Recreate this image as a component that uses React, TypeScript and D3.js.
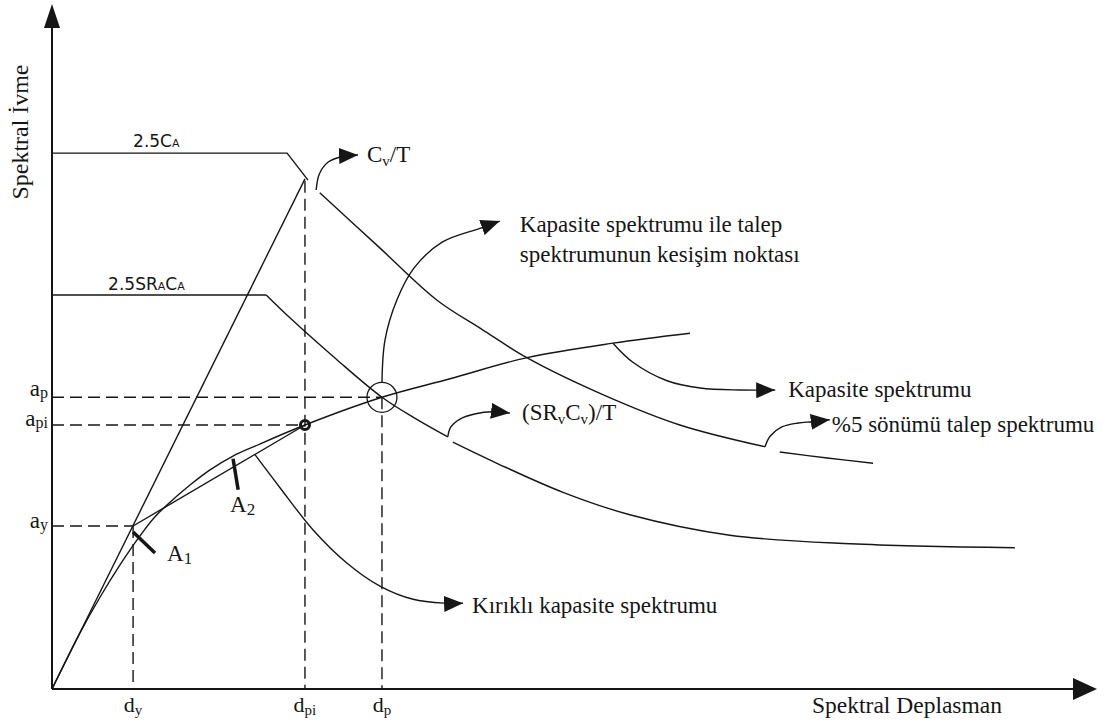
import React from "react";
import * as d3 from "d3";

type Pt = [number, number];

// Reference displacements (Sd) and accelerations (Sa)
const dY = 1.59;
const dPi = 4.96;
const dP = 6.47;
const aY = 0.247;
const aPi = 0.4;
const aP = 0.442;
const level25CA = 0.812;
const level25SRACA = 0.597;
const elasticPeak = 0.773;

// Elastic branch and bilinear (kırıklı) capacity spectrum
const elasticLine: Pt[] = [[0, 0], [dPi, elasticPeak]];
const bilinearLine: Pt[] = [[dY, aY], [dPi, aPi]];

// Capacity spectrum
const capacityCurve: Pt[] = [
  [0, 0], [0.549, 0.085], [0.941, 0.139], [1.333, 0.188], [1.725, 0.232],
  [2.02, 0.261], [2.314, 0.283], [2.706, 0.309], [3.098, 0.332], [3.549, 0.353],
  [3.98, 0.368], [dPi, aPi], [dP, aP], [7.804, 0.47], [9.314, 0.502],
  [11.0, 0.524], [12.51, 0.539],
];

// 5% damped demand spectrum (2.5CA plateau, Cv/T branch)
const cvtPlateau: Pt[] = [[0, level25CA], [4.61, level25CA], [5.02, 0.771]];
const cvtMid: Pt[] = [
  [5.25, 0.752], [6.39, 0.671], [7.55, 0.589], [8.43, 0.545], [9.31, 0.502],
  [10.8, 0.446], [12.31, 0.4], [13.98, 0.367],
];
const cvtTail: Pt[] = [[14.27, 0.359], [15.2, 0.35], [16.1, 0.342]];

// Reduced demand spectrum (2.5SRACA plateau, SRvCv/T branch)
const srPlateau: Pt[] = [[0, level25SRACA], [4.2, level25SRACA]];
const srMid: Pt[] = [
  [4.2, level25SRACA], [4.67, 0.562], [5.57, 0.5], [dP, aP], [7.12, 0.41], [7.76, 0.382],
];
const srTail: Pt[] = [
  [7.86, 0.374], [8.725, 0.342], [10.02, 0.298], [11.33, 0.264], [13.29, 0.233],
  [15.65, 0.22], [18.88, 0.214],
];

// Leader arrows for the annotations
const arrowCvT: Pt[] = [[5.18, 0.756], [5.24, 0.78], [5.41, 0.798], [5.65, 0.806], [6.0, 0.809]];
const arrowIntersection: Pt[] = [
  [6.47, 0.465], [6.53, 0.529], [6.76, 0.589], [7.1, 0.638], [7.65, 0.677], [8.39, 0.698], [8.78, 0.709],
];
const arrowSR: Pt[] = [[7.76, 0.382], [7.82, 0.397], [8.0, 0.409], [8.31, 0.417], [8.63, 0.42], [8.98, 0.418]];
const arrowCapacity: Pt[] = [
  [11.0, 0.524], [11.39, 0.495], [12.06, 0.467], [12.71, 0.456], [13.49, 0.453], [14.18, 0.453],
];
const arrowDemand: Pt[] = [[13.98, 0.367], [14.08, 0.383], [14.31, 0.397], [14.63, 0.403], [14.9, 0.405], [15.25, 0.408]];
const arrowBilinear: Pt[] = [
  [3.98, 0.355], [4.47, 0.305], [5.12, 0.241], [5.78, 0.191], [6.43, 0.156], [7.08, 0.136], [7.71, 0.13], [8.06, 0.13],
];

// Area markers A1, A2
const markerA1: Pt[] = [[1.59, 0.238], [2.02, 0.206]];
const markerA2: Pt[] = [[3.55, 0.349], [3.65, 0.302]];

const INK = "#161616";
const SERIF = "'Liberation Serif', 'Times New Roman', serif";
const SANS = "'DejaVu Sans', Verdana, sans-serif";

export default function App() {
  const x = d3.scaleLinear().domain([0, 20]).range([52, 1072]);
  const y = d3.scaleLinear().domain([0, 1]).range([689, 29]);

  const smooth = d3
    .line<Pt>()
    .x((d) => x(d[0]))
    .y((d) => y(d[1]))
    .curve(d3.curveCatmullRom.alpha(0.5));
  const straight = d3
    .line<Pt>()
    .x((d) => x(d[0]))
    .y((d) => y(d[1]));

  const tip = (pts: Pt[]) => {
    const p = pts[pts.length - 1];
    return [x(p[0]), y(p[1])];
  };

  const x0 = x(0);
  const y0 = y(0);
  const xEnd = 1075;
  const yTop = 26;

  const curveStyle = { fill: "none", stroke: INK, strokeWidth: 1.4 };
  const dashStyle = { fill: "none", stroke: INK, strokeWidth: 1.4, strokeDasharray: "12,6" };

  const [cvtX, cvtY] = tip(arrowCvT);
  const [intX, intY] = tip(arrowIntersection);
  const [srX, srY] = tip(arrowSR);
  const [capX, capY] = tip(arrowCapacity);
  const [demX, demY] = tip(arrowDemand);
  const [bilX, bilY] = tip(arrowBilinear);

  return (
    <svg
      width={1112}
      height={724}
      style={{ position: "fixed", left: 0, top: 0, background: "#fff", display: "block" }}
      fontFamily={SERIF}
    >
      <defs>
        <marker
          id="head"
          viewBox="0 0 19 16"
          refX={19}
          refY={8}
          markerWidth={19}
          markerHeight={16}
          markerUnits="userSpaceOnUse"
          orient="auto"
        >
          <path d="M0,0 L19,8 L0,16 Z" fill={INK} />
        </marker>
      </defs>

      {/* axes */}
      <line x1={x0} y1={y0} x2={xEnd} y2={y0} stroke={INK} strokeWidth={2} />
      <path d={`M${xEnd - 2},${y0 - 11} L1097,${y0} L${xEnd - 2},${y0 + 11} Z`} fill={INK} />
      <line x1={x0} y1={y0} x2={x0} y2={yTop} stroke={INK} strokeWidth={2} />
      <path d={`M${x0 - 8},${yTop + 2} L${x0},4 L${x0 + 8},${yTop + 2} Z`} fill={INK} />

      {/* guide lines */}
      <line x1={x0} y1={y(aP)} x2={x(dP)} y2={y(aP)} style={dashStyle} />
      <line x1={x(dP)} y1={y(aP)} x2={x(dP)} y2={y0} style={dashStyle} />
      <line x1={x0} y1={y(aPi)} x2={x(dPi)} y2={y(aPi)} style={dashStyle} />
      <line x1={x(dPi)} y1={y(elasticPeak) + 2} x2={x(dPi)} y2={y0} style={dashStyle} />
      <line x1={x0} y1={y(aY)} x2={x(dY)} y2={y(aY)} style={dashStyle} />
      <line x1={x(dY)} y1={y(aY)} x2={x(dY)} y2={y0} style={dashStyle} />

      {/* demand spectra */}
      <path d={straight(cvtPlateau) ?? ""} style={curveStyle} />
      <path d={smooth(cvtMid) ?? ""} style={curveStyle} />
      <path d={smooth(cvtTail) ?? ""} style={curveStyle} />
      <path d={straight(srPlateau) ?? ""} style={curveStyle} />
      <path d={smooth(srMid) ?? ""} style={curveStyle} />
      <path d={smooth(srTail) ?? ""} style={curveStyle} />

      {/* capacity spectra */}
      <path d={straight(elasticLine) ?? ""} style={curveStyle} />
      <path d={straight(bilinearLine) ?? ""} style={curveStyle} />
      <path d={smooth(capacityCurve) ?? ""} style={curveStyle} />

      {/* performance points */}
      <circle cx={x(dP)} cy={y(aP)} r={15} fill="none" stroke={INK} strokeWidth={1.3} />
      <circle cx={x(dPi)} cy={y(aPi)} r={4.5} fill="none" stroke={INK} strokeWidth={3} />

      {/* area markers */}
      <path d={straight(markerA1) ?? ""} stroke={INK} strokeWidth={3.5} fill="none" />
      <path d={straight(markerA2) ?? ""} stroke={INK} strokeWidth={3.5} fill="none" />

      {/* leader arrows */}
      {[arrowCvT, arrowIntersection, arrowSR, arrowCapacity, arrowDemand, arrowBilinear].map((a, i) => (
        <path key={i} d={smooth(a) ?? ""} style={curveStyle} markerEnd="url(#head)" />
      ))}

      {/* plateau labels */}
      <text x={x(1.59)} y={y(level25CA) - 6} fontFamily={SANS} fontSize={17} fill={INK}>
        2.5C<tspan fontSize={11}>A</tspan>
      </text>
      <text x={x(1.1)} y={y(level25SRACA) - 5} fontFamily={SANS} fontSize={17} fill={INK}>
        2.5SR<tspan fontSize={11}>A</tspan>
        <tspan fontSize={17}>C</tspan>
        <tspan fontSize={11}>A</tspan>
      </text>

      {/* annotations */}
      <g fontSize={23} fill={INK}>
        <text x={cvtX + 9} y={cvtY + 7}>
          C<tspan fontSize={15} dy={4}>v</tspan>
          <tspan dy={-4}>/T</tspan>
        </text>
        <text x={intX + 20} y={intY + 11}>Kapasite spektrumu ile talep</text>
        <text x={intX + 20} y={intY + 41}>spektrumunun kesişim noktası</text>
        <text x={srX + 12} y={srY + 7}>
          (SR<tspan fontSize={15} dy={4}>v</tspan>
          <tspan dy={-4}>C</tspan>
          <tspan fontSize={15} dy={4}>v</tspan>
          <tspan dy={-4}>)/T</tspan>
        </text>
        <text x={capX + 13} y={capY + 7}>Kapasite spektrumu</text>
        <text x={demX + 2} y={demY + 12}>%5 sönümü talep spektrumu</text>
        <text x={bilX + 9} y={bilY + 10}>Kırıklı kapasite spektrumu</text>
        <text x={x(1.59) + 34} y={y(0.194)}>
          A<tspan fontSize={17} dy={3}>1</tspan>
        </text>
        <text x={x(3.55) - 3} y={y(0.268)}>
          A<tspan fontSize={17} dy={3}>2</tspan>
        </text>
      </g>

      {/* axis tick labels */}
      <g fontSize={22} fill={INK} textAnchor="middle">
        <text x={x(dY)} y={y0 + 23}>
          d<tspan fontSize={15} dy={3}>y</tspan>
        </text>
        <text x={x(dPi)} y={y0 + 23}>
          d<tspan fontSize={15} dy={3}>pi</tspan>
        </text>
        <text x={x(dP)} y={y0 + 23}>
          d<tspan fontSize={15} dy={3}>p</tspan>
        </text>
      </g>
      <g fontSize={23} fill={INK} textAnchor="end">
        <text x={48} y={y(aP) - 1}>
          a<tspan fontSize={16} dy={2}>p</tspan>
        </text>
        <text x={48} y={y(aPi) + 1}>
          a<tspan fontSize={16} dy={2}>pi</tspan>
        </text>
        <text x={48} y={y(aY) + 2}>
          a<tspan fontSize={16} dy={2}>y</tspan>
        </text>
      </g>

      {/* axis titles */}
      <text
        transform={`translate(28,132) rotate(-90)`}
        textAnchor="middle"
        fontSize={23}
        fill={INK}
        textLength={135}
        lengthAdjust="spacingAndGlyphs"
      >
        Spektral İvme
      </text>
      <text x={812} y={y0 + 24} fontSize={23} fill={INK} textLength={190} lengthAdjust="spacingAndGlyphs">
        Spektral Deplasman
      </text>
    </svg>
  );
}
